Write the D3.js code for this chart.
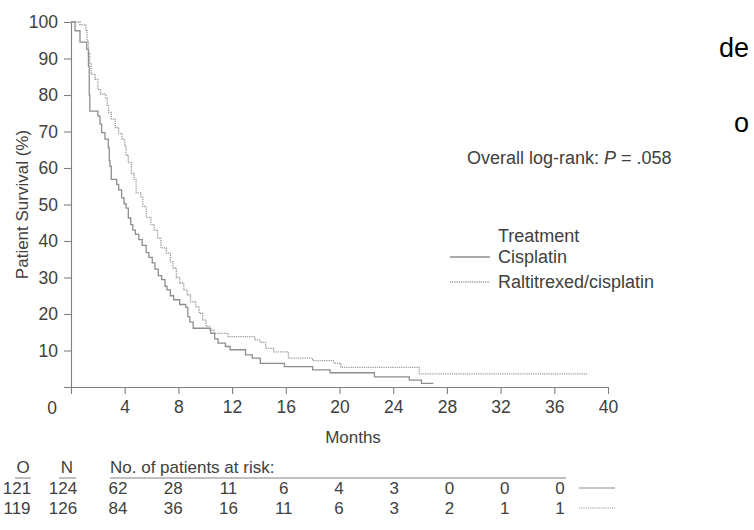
<!DOCTYPE html>
<html>
<head>
<meta charset="utf-8">
<script src="https://cdn.jsdelivr.net/npm/d3@7"></script>
<style>
  body { margin: 0; background: #fff; }
  text { font-family: "Liberation Sans", Arial, sans-serif; fill: #404040; }
</style>
</head>
<body>
<svg width="754" height="530"></svg>
<script>
// Kaplan-Meier steps (months, % surviving)
const cisTimes = [0, 0.3, 0.67, 1.17, 1.3, 1.36, 1.4, 2.0, 2.16, 2.28, 2.53, 2.78, 2.85, 2.9, 3.0, 3.4, 3.55, 3.77, 3.95, 4.1, 4.27, 4.45, 4.6, 4.8, 5.05, 5.3, 5.6, 5.8, 6.05, 6.25, 6.5, 6.75, 7.0, 7.15, 7.4, 7.65, 8.1, 8.55, 8.7, 8.85, 9.1, 10.4, 10.7, 10.95, 11.5, 11.85, 13.0, 13.5, 14.1, 15.9, 18.0, 19.3, 22.6, 25.2, 26.1, 27.0];
const cisSurv  = [100, 97.6, 94.5, 92.5, 88, 80, 75.6, 74.2, 72, 69.7, 67.9, 65.5, 62, 60.5, 56.9, 55.5, 54, 51.8, 50.2, 49, 46.3, 44.5, 43, 41.8, 40.4, 38.8, 36.8, 35.5, 34, 32.3, 30.5, 29.4, 27.6, 26.6, 25, 23.9, 22.6, 21.8, 19.3, 17.8, 16.1, 14.7, 13.2, 12, 11.1, 10.2, 8.8, 7.9, 6.5, 5.6, 4.7, 3.9, 2.8, 1.9, 1.0, 1.0];

const raltTimes = [0, 0.67, 1.1, 1.2, 1.3, 1.4, 1.5, 1.8, 2.0, 2.2, 2.6, 2.7, 2.8, 3.0, 3.3, 3.55, 3.8, 4.0, 4.1, 4.27, 4.5, 4.7, 4.85, 5.2, 5.35, 5.6, 5.95, 6.2, 6.45, 6.7, 7.1, 7.4, 7.6, 7.85, 8.1, 8.4, 8.65, 8.9, 9.3, 9.55, 9.8, 10.05, 10.3, 10.65, 11.7, 13.7, 14.1, 14.5, 15.1, 16.2, 18.0, 19.6, 20.1, 25.95, 38.5];
const raltSurv  = [100, 99.2, 97.6, 94.8, 91.5, 88.5, 85.7, 84.3, 81.5, 80.2, 79.3, 77, 75.2, 73.4, 71.1, 69.5, 67.9, 66, 63.5, 61.5, 58.5, 56.9, 53.2, 52, 49.5, 46.5, 44.5, 43, 40.8, 38.1, 36.7, 34.3, 32.6, 30, 28.5, 26.6, 25.2, 23.4, 22, 20.2, 18.4, 16.6, 15.6, 14.7, 13.8, 12.9, 12.2, 10.6, 9.6, 7.9, 7.2, 6.5, 5.4, 3.6, 3.6];

const xTicks = [0, 4, 8, 12, 16, 20, 24, 28, 32, 36, 40];
const yTicks = [0, 10, 20, 30, 40, 50, 60, 70, 80, 90, 100];

const groups = ["Cisplatin", "Raltitrexed/cisplatin"];
const observed = [121, 119];
const numbers = [124, 126];
const riskTimes = [4, 8, 12, 16, 20, 24, 28, 32, 36];
const riskCis = [62, 28, 11, 6, 4, 3, 0, 0, 0];
const riskRalt = [84, 36, 16, 11, 6, 3, 2, 1, 1];

const svg = d3.select("svg");
const x = d3.scaleLinear().domain([0, 40]).range([71, 608]);
const y = d3.scaleLinear().domain([0, 100]).range([387, 22]);

const axisGrey = "#808080";
const solidGrey = "#8e8e8e";
const dotGrey = "#999";
const dash = "1.2,1";

// axes
svg.append("g").attr("transform", `translate(${x(0)},0)`)
  .call(d3.axisLeft(y).tickValues(yTicks).tickSize(7).tickSizeOuter(0).tickPadding(6)
    .tickFormat(d => d === 0 ? "" : d));
svg.append("g").attr("transform", `translate(0,${y(0)})`)
  .call(d3.axisBottom(x).tickValues(xTicks).tickSize(7).tickSizeOuter(0).tickPadding(7)
    .tickFormat(d => d === 0 ? "" : d));
svg.selectAll(".domain, .tick line").attr("stroke", axisGrey).attr("stroke-width", 1.1);
svg.selectAll(".tick text").attr("font-size", 17.5).attr("fill", "#404040")
  .attr("font-family", '"Liberation Sans", Arial, sans-serif');

// the shared origin label sits left of the corner
svg.append("text").attr("x", x(0) - 19).attr("y", y(0) + 27)
  .attr("text-anchor", "middle").attr("font-size", 17.5).text("0");

svg.append("text").attr("x", 353).attr("y", 443).attr("text-anchor", "middle")
  .attr("font-size", 17).text("Months");
svg.append("text").attr("transform", `translate(28,${y(50)}) rotate(-90)`)
  .attr("text-anchor", "middle").attr("font-size", 17).text("Patient Survival (%)");

// curves
const step = d3.line().x(d => x(d[0])).y(d => y(d[1])).curve(d3.curveStepAfter);
svg.append("path").datum(d3.zip(cisTimes, cisSurv)).attr("d", step)
  .attr("fill", "none").attr("stroke", solidGrey).attr("stroke-width", 1.3);
svg.append("path").datum(d3.zip(raltTimes, raltSurv)).attr("d", step)
  .attr("fill", "none").attr("stroke", dotGrey).attr("stroke-width", 1.3)
  .attr("stroke-dasharray", dash);

// p-value note
const note = svg.append("text").attr("x", 467).attr("y", 164).attr("font-size", 18);
note.append("tspan").text("Overall log-rank: ");
note.append("tspan").attr("font-style", "italic").text("P");
note.append("tspan").text(" = .058");

// legend
svg.append("text").attr("x", 498).attr("y", 242).attr("font-size", 18).text("Treatment");
groups.forEach((g, i) => {
  const ly = 257 + i * 25;
  svg.append("line").attr("x1", 450).attr("x2", 490).attr("y1", ly).attr("y2", ly)
    .attr("stroke", i === 0 ? solidGrey : dotGrey).attr("stroke-width", 1.3)
    .attr("stroke-dasharray", i === 0 ? null : dash);
  svg.append("text").attr("x", 498).attr("y", ly + 6).attr("font-size", 18).text(g);
});

// stray glyphs at the right edge
svg.append("text").attr("x", 749).attr("y", 57).attr("text-anchor", "end")
  .attr("font-size", 27).style("fill", "#000").text("de");
svg.append("text").attr("x", 749).attr("y", 132).attr("text-anchor", "end")
  .attr("font-size", 27).style("fill", "#000").text("o");

// at-risk table
const riskX = d3.scaleLinear().domain([4, 36]).range([118, 560]);
const table = svg.append("g").attr("font-size", 17);
table.append("text").attr("x", 23).attr("y", 473).attr("text-anchor", "middle").text("O");
table.append("text").attr("x", 67).attr("y", 473).attr("text-anchor", "middle").text("N");
table.append("text").attr("x", 110).attr("y", 473).text("No. of patients at risk:");
[[15, 31], [59, 76], [110, 566]].forEach(([a, b]) => {
  table.append("line").attr("x1", a).attr("x2", b).attr("y1", 478).attr("y2", 478)
    .attr("stroke", axisGrey).attr("stroke-width", 1);
});
[riskCis, riskRalt].forEach((row, i) => {
  const ry = 494 + i * 20;
  table.append("text").attr("x", 17).attr("y", ry).attr("text-anchor", "middle").text(observed[i]);
  table.append("text").attr("x", 63).attr("y", ry).attr("text-anchor", "middle").text(numbers[i]);
  row.forEach((v, j) => {
    table.append("text").attr("x", riskX(riskTimes[j])).attr("y", ry)
      .attr("text-anchor", "middle").text(v);
  });
  table.append("line").attr("x1", 579).attr("x2", 615).attr("y1", ry - 6).attr("y2", ry - 6)
    .attr("stroke", i === 0 ? solidGrey : dotGrey).attr("stroke-width", 1.2)
    .attr("stroke-dasharray", i === 0 ? null : dash);
});
</script>
</body>
</html>
